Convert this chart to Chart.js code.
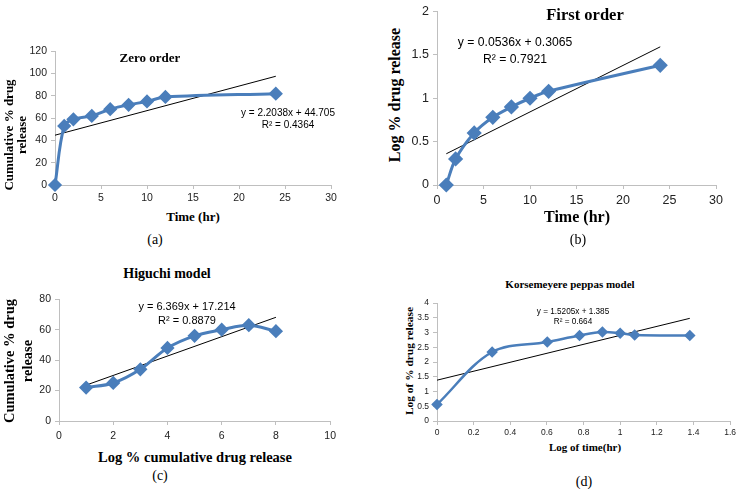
<!DOCTYPE html>
<html>
<head>
<meta charset="utf-8">
<script src="https://cdn.jsdelivr.net/npm/chart.js@4.4.0/dist/chart.umd.min.js"></script>
<style>
  body { margin: 0; background: #fff; }
  #page { position: relative; width: 740px; height: 489px; overflow: hidden; background: #fff; }
  .box { position: absolute; }
  .t { position: absolute; white-space: nowrap; transform: translate(-50%, -50%); color: #000; text-align: center; }
  .serif { font-family: "Liberation Serif", "Times New Roman", serif; font-weight: bold; }
  .cap { font-family: "Liberation Serif", "Times New Roman", serif; font-size: 14px; }
  .eq { font-family: "Liberation Sans", Arial, sans-serif; line-height: 1.2; }
  .rot { transform: translate(-50%, -50%) rotate(-90deg); }
</style>
</head>
<body>
<div id="page">
  <div class="box" style="left:25px;top:41px;width:316px;height:166px"><canvas id="zeroChart"></canvas></div>
  <div class="box" style="left:405px;top:0px;width:322px;height:209px"><canvas id="firstChart"></canvas></div>
  <div class="box" style="left:29px;top:289px;width:312px;height:154px"><canvas id="higuchiChart"></canvas></div>
  <div class="box" style="left:415px;top:294px;width:324px;height:147px"><canvas id="peppasChart"></canvas></div>

  <!-- titles -->
  <div class="t serif" style="left:150px;top:58px;font-size:13px">Zero order</div>
  <div class="t serif" style="left:585px;top:15px;font-size:16.5px">First order</div>
  <div class="t serif" style="left:167px;top:274px;font-size:14px">Higuchi model</div>
  <div class="t serif" style="left:570px;top:284px;font-size:11px">Korsemeyere peppas model</div>

  <!-- x axis titles -->
  <div class="t serif" style="left:193px;top:217px;font-size:13px">Time (hr)</div>
  <div class="t serif" style="left:577px;top:217px;font-size:16px">Time (hr)</div>
  <div class="t serif" style="left:195px;top:457px;font-size:14.5px">Log % cumulative drug release</div>
  <div class="t serif" style="left:585px;top:447px;font-size:11px">Log of time(hr)</div>

  <!-- y axis titles -->
  <div class="t serif rot" style="left:15px;top:135px;font-size:13px;line-height:13px">Cumulative % drug<br>release</div>
  <div class="t serif rot" style="left:395px;top:95px;font-size:16px">Log % drug release</div>
  <div class="t serif rot" style="left:18px;top:361px;font-size:14.5px;line-height:18px">Cumulative % drug<br>release</div>
  <div class="t serif rot" style="left:409px;top:361px;font-size:11.4px">Log of % drug release</div>

  <!-- trendline equations -->
  <div class="t eq" style="left:288px;top:119px;font-size:10px">y = 2.2038x + 44.705<br>R² = 0.4364</div>
  <div class="t eq" style="left:515px;top:51px;font-size:12.2px;line-height:17px">y = 0.0536x + 0.3065<br>R² = 0.7921</div>
  <div class="t eq" style="left:187px;top:313px;font-size:11px;line-height:14px">y = 6.369x + 17.214<br>R² = 0.8879</div>
  <div class="t eq" style="left:573px;top:317px;font-size:8.2px;line-height:10px">y = 1.5205x + 1.385<br>R² = 0.664</div>

  <!-- captions -->
  <div class="t cap" style="left:155px;top:240px">(a)</div>
  <div class="t cap" style="left:578px;top:240px">(b)</div>
  <div class="t cap" style="left:160px;top:476px">(c)</div>
  <div class="t cap" style="left:584px;top:482px">(d)</div>
</div>

<script>
// zero order
const zeroTime = [0, 1, 2, 4, 6, 8, 10, 12, 24];
const zeroRelease = [0, 53, 59, 62, 68, 72, 75, 79, 82];
const zeroSlope = 2.2038, zeroIntercept = 44.705;
const zeroFitX = [0, 24];

// first order
const firstTime = [1, 2, 4, 6, 8, 10, 12, 24];
const firstLogRelease = [0, 0.3, 0.6, 0.78, 0.9, 1.0, 1.08, 1.38];
const firstSlope = 0.0536, firstIntercept = 0.3065;
const firstFitX = [1, 24];

// higuchi
const higuchiX = [1, 2, 3, 4, 5, 6, 7, 8];
const higuchiRelease = [22, 25, 34, 48, 56, 60, 63, 59];
const higuchiSlope = 6.369, higuchiIntercept = 17.214;
const higuchiFitX = [1, 8];

// korsmeyer peppas
const peppasLogTime = [0, 0.301, 0.602, 0.778, 0.903, 1.0, 1.079, 1.380];
const peppasLogRelease = [0.56, 2.34, 2.68, 2.9, 3.02, 2.98, 2.92, 2.9];
const peppasSlope = 1.5205, peppasIntercept = 1.385;
const peppasFitX = [0, 1.38];

const blue = "#4A7EBB";
const axisGrey = "#BFBFBF";

function fmt(v) { return String(Number(v.toFixed(2))); }

function makePanel(id, o) {
  const pts = o.xs.map((x, i) => ({ x: x, y: o.ys[i] }));
  const fit = o.fitX.map(x => ({ x: x, y: o.slope * x + o.intercept }));
  const font = { family: "Liberation Sans, Arial, sans-serif", size: o.tickSize };
  new Chart(document.getElementById(id), {
    type: "line",
    data: {
      datasets: [{
        data: pts,
        borderColor: blue,
        backgroundColor: blue,
        borderWidth: o.lineW,
        pointStyle: "rectRot",
        pointRadius: o.pointR,
        pointHoverRadius: o.pointR,
        tension: 0.35,
        clip: false
      }, {
        data: fit,
        borderColor: "#000",
        borderWidth: 1,
        pointRadius: 0,
        tension: 0
      }]
    },
    options: {
      responsive: true,
      maintainAspectRatio: false,
      animation: false,
      layout: { padding: { top: o.padTop, right: o.padRight, left: 0, bottom: 0 } },
      plugins: { legend: { display: false }, tooltip: { enabled: false } },
      scales: {
        x: {
          type: "linear", min: o.xMin, max: o.xMax,
          grid: { drawOnChartArea: false, color: axisGrey, tickLength: 4 },
          border: { color: axisGrey },
          ticks: { stepSize: o.xStep, color: "#222", font: font, padding: o.xPad, maxRotation: 0, callback: fmt },
          afterFit(s) { s.height = o.xH; }
        },
        y: {
          min: o.yMin, max: o.yMax,
          grid: { drawOnChartArea: false, color: axisGrey, tickLength: 4 },
          border: { color: axisGrey },
          ticks: { stepSize: o.yStep, color: "#222", font: font, padding: 4, callback: fmt },
          afterFit(s) { s.width = o.yW; }
        }
      }
    }
  });
}

makePanel("zeroChart", {
  xs: zeroTime, ys: zeroRelease, slope: zeroSlope, intercept: zeroIntercept, fitX: zeroFitX,
  xMin: 0, xMax: 30, xStep: 5, yMin: 0, yMax: 120, yStep: 20,
  tickSize: 10.5, lineW: 3, pointR: 5, padTop: 8, padRight: 10, yW: 30, xH: 22, xPad: 3
});

makePanel("firstChart", {
  xs: firstTime, ys: firstLogRelease, slope: firstSlope, intercept: firstIntercept, fitX: firstFitX,
  xMin: 0, xMax: 30, xStep: 5, yMin: 0, yMax: 2, yStep: 0.5,
  tickSize: 12.5, lineW: 3, pointR: 5.5, padTop: 6, padRight: 10, yW: 32, xH: 24, xPad: 4
});

makePanel("higuchiChart", {
  xs: higuchiX, ys: higuchiRelease, slope: higuchiSlope, intercept: higuchiIntercept, fitX: higuchiFitX,
  xMin: 0, xMax: 10, xStep: 2, yMin: 0, yMax: 80, yStep: 20,
  tickSize: 10.5, lineW: 3, pointR: 5, padTop: 8, padRight: 10, yW: 30, xH: 22, xPad: 5
});

makePanel("peppasChart", {
  xs: peppasLogTime, ys: peppasLogRelease, slope: peppasSlope, intercept: peppasIntercept, fitX: peppasFitX,
  xMin: 0, xMax: 1.6, xStep: 0.2, yMin: 0, yMax: 4, yStep: 0.5,
  tickSize: 8.5, lineW: 2.5, pointR: 4, padTop: 8, padRight: 4, yW: 22, xH: 20, xPad: 3
});
</script>
</body>
</html>
